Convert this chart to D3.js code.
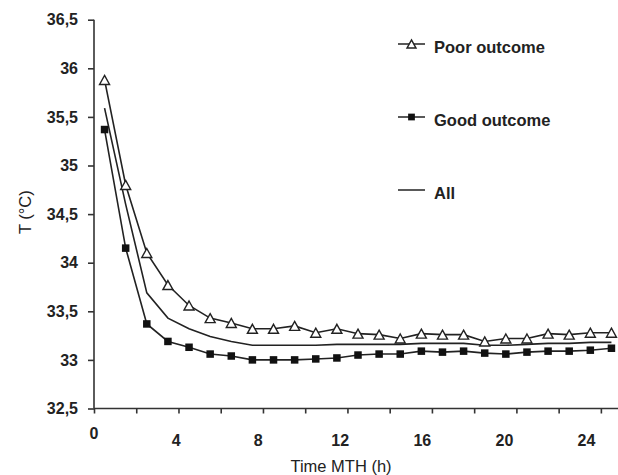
<!DOCTYPE html>
<html>
<head>
<meta charset="utf-8">
<script src="https://cdn.jsdelivr.net/npm/d3@7"></script>
<style>
  body { margin: 0; background: #fff; }
  svg { display: block; }
  .axis path, .axis line { stroke: #333; stroke-width: 1.6; }
  .axis text { font-family: "Liberation Sans", Arial, sans-serif; font-weight: bold; font-size: 16px; fill: #222; }
  .title { font-family: "Liberation Sans", Arial, sans-serif; font-size: 16.5px; fill: #222; }
  .legend text { font-family: "Liberation Sans", Arial, sans-serif; font-weight: bold; font-size: 16.5px; fill: #222; }
  .series { fill: none; stroke: #222; stroke-width: 1.6; }
</style>
</head>
<body>
<div id="chart"></div>
<script>
// hours after start of mild therapeutic hypothermia (mid-hour samples)
var hours = [0.5, 1.5, 2.5, 3.5, 4.5, 5.5, 6.5, 7.5, 8.5, 9.5, 10.5, 11.5, 12.5,
  13.5, 14.5, 15.5, 16.5, 17.5, 18.5, 19.5, 20.5, 21.5, 22.5, 23.5, 24.5];

var poorOutcome = [35.88, 34.80, 34.10, 33.77, 33.56, 33.43, 33.38, 33.32, 33.32,
  33.35, 33.28, 33.32, 33.27, 33.26, 33.22, 33.27, 33.26, 33.26, 33.19, 33.22,
  33.22, 33.27, 33.26, 33.28, 33.28];

var goodOutcome = [35.37, 34.15, 33.37, 33.19, 33.13, 33.06, 33.04, 33.00, 33.00,
  33.00, 33.01, 33.02, 33.05, 33.06, 33.06, 33.09, 33.08, 33.09, 33.07, 33.06,
  33.08, 33.09, 33.09, 33.10, 33.12];

var allPatients = [35.59, 34.60, 33.69, 33.43, 33.32, 33.24, 33.19, 33.15, 33.15,
  33.15, 33.15, 33.16, 33.16, 33.16, 33.16, 33.17, 33.17, 33.17, 33.15, 33.15,
  33.16, 33.17, 33.17, 33.18, 33.18];

var yTicks = [32.5, 33, 33.5, 34, 34.5, 35, 35.5, 36, 36.5];
var xTicks = [0, 2, 4, 6, 8, 10, 12, 14, 16, 18, 20, 22, 24];
var xLabels = [0, 4, 8, 12, 16, 20, 24];

var legendItems = [
  {name: 'Poor outcome', marker: 'triangle'},
  {name: 'Good outcome', marker: 'square'},
  {name: 'All', marker: 'none'}
];

(function () {
  var width = 618;
  var height = 475;
  var svg;
  var x, xLab, y;

  /**
   * Draws one marker shape centred on (cx, cy)
   */
  function addMarker(g, kind, cx, cy, size) {
    if (kind === 'triangle') {
      var h = size * 0.9;
      g.append('path')
          .attr('d', 'M' + cx + ',' + (cy - h / 2) +
              'L' + (cx + size / 2) + ',' + (cy + h / 2) +
              'L' + (cx - size / 2) + ',' + (cy + h / 2) + 'Z')
          .attr('fill', '#fff')
          .attr('stroke', '#222')
          .attr('stroke-width', 1.4);
    } else if (kind === 'square') {
      var s = size * 0.75;
      g.append('rect')
          .attr('x', cx - s / 2)
          .attr('y', cy - s / 2)
          .attr('width', s)
          .attr('height', s)
          .attr('fill', '#111');
    }
  }

  function draw_axes() {
    var gy = svg.append('g')
        .attr('class', 'axis')
        .attr('transform', 'translate(' + x(0) + ',0)')
        .call(d3.axisLeft(y)
            .tickValues(yTicks)
            .tickSize(6)
            .tickPadding(10)
            .tickFormat(function (d) { return String(d).replace('.', ','); }));
    gy.select('.domain').attr('d', 'M0,' + y(36.5) + 'V' + y(32.5));

    var gx = svg.append('g')
        .attr('class', 'axis')
        .attr('transform', 'translate(0,' + y(32.5) + ')')
        .call(d3.axisBottom(x).tickValues(xTicks).tickSize(5).tickFormat(''));
    gx.select('.domain').attr('d', 'M' + x(0) + ',0H' + width);

    // labels sit slightly off the tick marks in the original figure
    var gl = svg.append('g')
        .attr('class', 'axis')
        .attr('transform', 'translate(0,' + y(32.5) + ')')
        .call(d3.axisBottom(xLab).tickValues(xLabels).tickSize(0).tickPadding(26));
    gl.select('.domain').remove();
    gl.selectAll('.tick text')
        .filter(function (d) { return d === 0; })
        .attr('dy', '0.3em');

    svg.append('text')
        .attr('class', 'title')
        .attr('x', 341)
        .attr('y', 472)
        .attr('text-anchor', 'middle')
        .text('Time MTH (h)');

    svg.append('text')
        .attr('class', 'title')
        .attr('transform', 'translate(31,' + y(34.52) + ') rotate(-90)')
        .attr('text-anchor', 'middle')
        .text('T (°C)');
  }

  function draw_series(values, marker) {
    var line = d3.line()
        .x(function (d, i) { return x(hours[i]); })
        .y(function (d) { return y(d); });
    var g = svg.append('g');

    g.append('path')
        .datum(values)
        .attr('class', 'series')
        .attr('d', line);

    values.forEach(function (v, i) {
      addMarker(g, marker, x(hours[i]), y(v), 10);
    });
  }

  function draw_legend() {
    var g = svg.append('g').attr('class', 'legend');
    var rows = [44, 117, 190];

    legendItems.forEach(function (item, i) {
      g.append('line')
          .attr('x1', 398).attr('x2', 425)
          .attr('y1', rows[i]).attr('y2', rows[i])
          .attr('stroke', '#222')
          .attr('stroke-width', 1.5);
      addMarker(g, item.marker, 411.5, rows[i], 9);
      g.append('text')
          .attr('x', 434)
          .attr('y', rows[i] + 9)
          .text(item.name);
    });
  }

  svg = d3.select('#chart').append('svg')
      .attr('width', width)
      .attr('height', height);

  x = d3.scaleLinear().domain([0, 25]).range([94, 94 + 25 * 21.12]);
  xLab = d3.scaleLinear().domain([0, 24]).range([93.5, 586]);
  y = d3.scaleLinear().domain([32.5, 36.5]).range([408.5, 19.7]);

  draw_axes();
  draw_series(allPatients, 'none');
  draw_series(goodOutcome, 'square');
  draw_series(poorOutcome, 'triangle');
  draw_legend();
}());
</script>
</body>
</html>
